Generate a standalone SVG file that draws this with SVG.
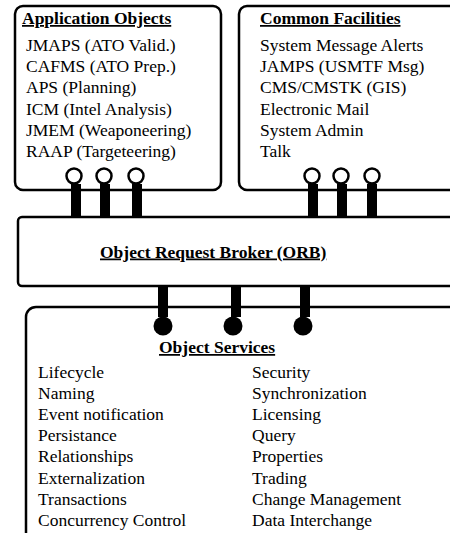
<svg xmlns="http://www.w3.org/2000/svg" width="450" height="533" viewBox="0 0 450 533">
<style>
.box{fill:#fff;stroke:#000;stroke-width:2.5}
.t{font-family:"Liberation Serif","Times New Roman",serif;font-size:17.5px;fill:#000}
.h{font-weight:bold;text-decoration:underline}
.bar{fill:#000}
.open{fill:#fff;stroke:#000;stroke-width:2.5}
.dot{fill:#000}
</style>
<rect width="450" height="533" fill="#fff"/>
<g id="connectors">
<rect class="bar" x="71" y="184" width="10" height="34"/>
<rect class="bar" x="100" y="184" width="10" height="34"/>
<rect class="bar" x="132" y="184" width="10" height="34"/>
<rect class="bar" x="308" y="184" width="10" height="34"/>
<rect class="bar" x="337" y="184" width="10" height="34"/>
<rect class="bar" x="367" y="184" width="10" height="34"/>
<rect class="bar" x="158" y="286" width="10" height="40"/>
<rect class="bar" x="231" y="286" width="10" height="40"/>
<rect class="bar" x="300" y="286" width="10" height="40"/>
</g>
<g id="app-objects">
<rect class="box" x="15" y="6" width="206" height="184" rx="8"/>
<text class="t h" x="22" y="24">Application Objects</text>
<text class="t" x="26" y="51">JMAPS (ATO Valid.)</text>
<text class="t" x="26" y="72.2">CAFMS (ATO Prep.)</text>
<text class="t" x="26" y="93.4">APS (Planning)</text>
<text class="t" x="26" y="114.6">ICM (Intel Analysis)</text>
<text class="t" x="26" y="135.8">JMEM (Weaponeering)</text>
<text class="t" x="26" y="157">RAAP (Targeteering)</text>
<rect class="bar" x="71" y="184" width="10" height="8"/>
<rect class="bar" x="100" y="184" width="10" height="8"/>
<rect class="bar" x="132" y="184" width="10" height="8"/>
<circle class="open" cx="74" cy="176" r="7.5"/>
<circle class="open" cx="104" cy="176" r="7.5"/>
<circle class="open" cx="136" cy="176" r="7.5"/>
</g>
<g id="common-facilities">
<rect class="box" x="239" y="6" width="240" height="184" rx="8"/>
<text class="t h" x="260" y="24">Common Facilities</text>
<text class="t" x="260" y="51">System Message Alerts</text>
<text class="t" x="260" y="72.2">JAMPS (USMTF Msg)</text>
<text class="t" x="260" y="93.4">CMS/CMSTK (GIS)</text>
<text class="t" x="260" y="114.6">Electronic Mail</text>
<text class="t" x="260" y="135.8">System Admin</text>
<text class="t" x="260" y="157">Talk</text>
<rect class="bar" x="308" y="184" width="10" height="8"/>
<rect class="bar" x="337" y="184" width="10" height="8"/>
<rect class="bar" x="367" y="184" width="10" height="8"/>
<circle class="open" cx="312" cy="176" r="7.5"/>
<circle class="open" cx="341" cy="176" r="7.5"/>
<circle class="open" cx="372" cy="176" r="7.5"/>
</g>
<g id="orb">
<rect class="box" x="18" y="217" width="460" height="69" rx="4"/>
<text class="t h" x="100" y="257.5">Object Request Broker (ORB)</text>
</g>
<g id="object-services">
<rect class="box" x="26" y="307" width="460" height="260" rx="10"/>
<rect class="bar" x="158" y="305" width="10" height="12"/>
<rect class="bar" x="231" y="305" width="10" height="12"/>
<rect class="bar" x="300" y="305" width="10" height="12"/>
<circle class="dot" cx="163" cy="326" r="9.5"/>
<circle class="dot" cx="233" cy="326" r="9.5"/>
<circle class="dot" cx="303" cy="326" r="9.5"/>
<text class="t h" x="159" y="353">Object Services</text>
<text class="t" x="38" y="377.5">Lifecycle</text>
<text class="t" x="38" y="398.7">Naming</text>
<text class="t" x="38" y="419.9">Event notification</text>
<text class="t" x="38" y="441.1">Persistance</text>
<text class="t" x="38" y="462.3">Relationships</text>
<text class="t" x="38" y="483.5">Externalization</text>
<text class="t" x="38" y="504.7">Transactions</text>
<text class="t" x="38" y="525.9">Concurrency Control</text>
<text class="t" x="252" y="377.5">Security</text>
<text class="t" x="252" y="398.7">Synchronization</text>
<text class="t" x="252" y="419.9">Licensing</text>
<text class="t" x="252" y="441.1">Query</text>
<text class="t" x="252" y="462.3">Properties</text>
<text class="t" x="252" y="483.5">Trading</text>
<text class="t" x="252" y="504.7">Change Management</text>
<text class="t" x="252" y="525.9">Data Interchange</text>
</g>
</svg>
